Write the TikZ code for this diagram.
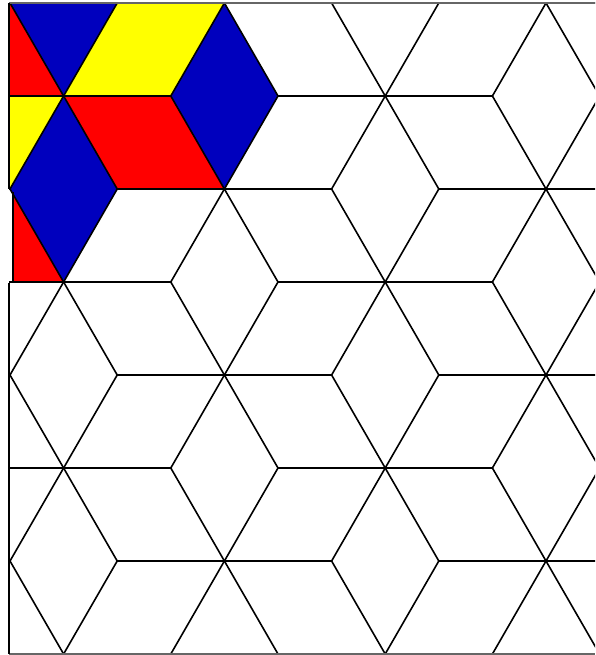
\documentclass[tikz,border=0pt]{standalone}
\usepackage{tikz}
\definecolor{tred}{RGB}{255,0,0}
\definecolor{tblue}{RGB}{0,0,190}
\definecolor{tyellow}{RGB}{255,255,0}
\tikzset{
  edge/.style={line width=1.6pt, black, line cap=round},
  framegray/.style={line width=1.5pt, black!60},
  frameblack/.style={line width=1.5pt, black},
  tile/.style={draw=black, line width=1.2pt, line join=round}
}
\newcommand{\LP}[2]{({10+53.6*(#1)},{3+93*(#2)})}
\begin{document}
\begin{tikzpicture}[x=1pt,y=-1pt]
\useasboundingbox (0,0) rectangle (595,655);
\fill[white] (0,0) rectangle (595,655);
\begin{scope}
\clip (9,3) rectangle (595,654);
% coloured tiles
\fill[tred] \LP{0}{0} -- \LP{1}{1} -- \LP{-1}{1} -- \LP{-2}{0} -- cycle;
\fill[tblue] \LP{0}{0} -- \LP{1}{-1} -- \LP{2}{0} -- \LP{1}{1} -- cycle;
\fill[tyellow] \LP{2}{0} -- \LP{4}{0} -- \LP{3}{1} -- \LP{1}{1} -- cycle;
\fill[tblue] \LP{4}{0} -- \LP{5}{1} -- \LP{4}{2} -- \LP{3}{1} -- cycle;
\fill[tred] \LP{1}{1} -- \LP{3}{1} -- \LP{4}{2} -- \LP{2}{2} -- cycle;
\fill[tyellow] \LP{-1}{1} -- \LP{1}{1} -- \LP{0}{2} -- \LP{-2}{2} -- cycle;
\fill[tblue] \LP{1}{1} -- \LP{2}{2} -- \LP{1}{3} -- \LP{0}{2} -- cycle;
\end{scope}
\begin{scope}
\clip (13,3) rectangle (595,654);
\fill[tred] \LP{0}{2} -- \LP{1}{3} -- \LP{-1}{3} -- \LP{-2}{2} -- cycle;
\end{scope}
\draw[line width=1.2pt] (13,192) -- (13,283);
% lattice edges
\begin{scope}
\clip (9,3) rectangle (595,654);
\foreach \j in {-1,...,8}{
  \foreach \i in {-3,...,13}{
    \pgfmathtruncatemacro{\pp}{mod(\i+\j+100,2)}
    \ifnum\pp=0
      \pgfmathtruncatemacro{\cc}{mod((\i+3*\j)/2+99,3)}
      \ifnum\cc=2
        \draw[edge] \LP{\i}{\j} -- ++(107.2,0);
        \draw[edge] \LP{\i}{\j} -- ++(-107.2,0);
        \draw[edge] \LP{\i}{\j} -- ++(53.6,93);
        \draw[edge] \LP{\i}{\j} -- ++(-53.6,93);
        \draw[edge] \LP{\i}{\j} -- ++(53.6,-93);
        \draw[edge] \LP{\i}{\j} -- ++(-53.6,-93);
      \fi
    \fi
  }
}
\end{scope}
% frame
\draw[framegray] (9,3) -- (595,3);
\draw[framegray] (9,654) -- (595,654);
\draw[frameblack] (9,3) -- (9,189);
\draw[frameblack] (9,283) -- (9,654);
\end{tikzpicture}
\end{document}
